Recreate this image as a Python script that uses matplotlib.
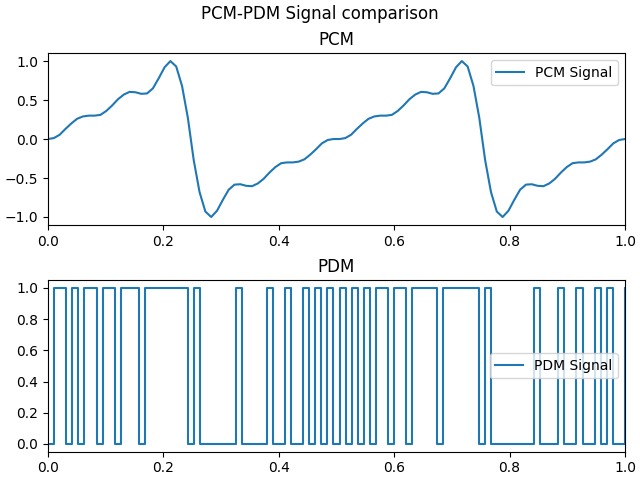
import numpy as np
import matplotlib
matplotlib.use("Agg")
import matplotlib.pyplot as plt

# PCM samples (100 points over t = 0..1)
pcm_values = [
    0.0, 0.012, 0.055, 0.13, 0.20, 0.26, 0.29, 0.30, 0.30, 0.31,
    0.36, 0.43, 0.51, 0.57, 0.605, 0.60, 0.58, 0.585, 0.65, 0.78,
    0.92, 1.0, 0.93, 0.68, 0.27, -0.27, -0.68, -0.93, -1.0, -0.92,
    -0.78, -0.65, -0.585, -0.58, -0.60, -0.605, -0.57, -0.51, -0.43, -0.36,
    -0.31, -0.30, -0.30, -0.29, -0.26, -0.20, -0.13, -0.055, -0.012, 0.0,
    0.0, 0.012, 0.055, 0.13, 0.20, 0.26, 0.29, 0.30, 0.30, 0.31,
    0.36, 0.43, 0.51, 0.57, 0.605, 0.60, 0.58, 0.585, 0.65, 0.78,
    0.92, 1.0, 0.93, 0.68, 0.27, -0.27, -0.68, -0.93, -1.0, -0.92,
    -0.78, -0.65, -0.585, -0.58, -0.60, -0.605, -0.57, -0.51, -0.43, -0.36,
    -0.31, -0.30, -0.30, -0.29, -0.26, -0.20, -0.13, -0.055, -0.012, 0.0,
]

# PDM bit stream (96 samples over t = 0..1)
pdm_bits = [
    0, 1, 1, 0, 1, 0, 1, 1, 0, 1, 1, 0, 1, 1, 1, 0,
    1, 1, 1, 1, 1, 1, 1, 0, 1, 0, 0, 0, 0, 0, 0, 1,
    0, 0, 0, 0, 1, 0, 0, 1, 0, 0, 1, 0, 1, 0, 1, 0,
    1, 0, 1, 0, 1, 0, 1, 1, 0, 1, 1, 0, 1, 1, 1, 1,
    0, 1, 1, 1, 1, 1, 1, 0, 1, 0, 0, 0, 0, 0, 0, 0,
    1, 0, 0, 0, 1, 0, 0, 1, 0, 0, 1, 0, 1, 0, 0, 1,
]

pdm_ticks = [0.0, 0.2, 0.4, 0.6, 0.8, 1.0]

t_pcm = np.linspace(0, 1, len(pcm_values))
t_pdm = np.linspace(0, 1, len(pdm_bits))

fig, (ax1, ax2) = plt.subplots(2, 1, figsize=(6.4, 4.8), dpi=100)
fig.subplots_adjust(left=0.075, right=0.9766, top=0.889, bottom=0.059, hspace=0.323)
fig.suptitle("PCM-PDM Signal comparison", y=0.99)

ax1.plot(t_pcm, pcm_values, label="PCM Signal")
ax1.set_title("PCM")
ax1.set_xlim(0, 1)
ax1.legend(loc="upper right")

ax2.step(t_pdm, pdm_bits, where="post", label="PDM Signal")
ax2.set_title("PDM")
ax2.set_xlim(0, 1)
ax2.set_yticks(pdm_ticks)
ax2.legend(loc="center right")

plt.savefig("out.png")
